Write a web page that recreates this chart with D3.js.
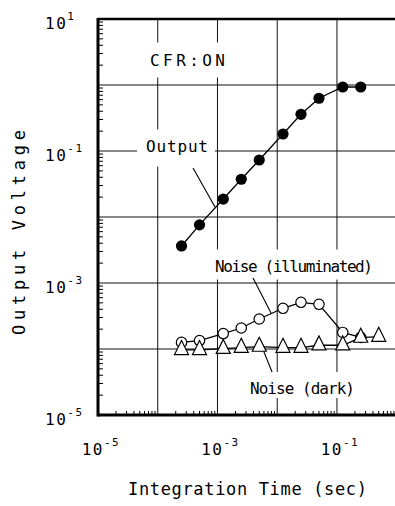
<!DOCTYPE html>
<html lang="en">
<head>
    <meta charset="UTF-8">
    <title>Output Voltage vs Integration Time</title>
    <script src="https://d3js.org/d3.v7.min.js"></script>
    <style>
        body { margin: 0; background: #fff; }
        text { font-family: "DejaVu Sans Mono", "Liberation Mono", monospace; fill: #000; }
    </style>
</head>
<body>
<div id="chart"></div>
<script>
// integration times (sec)
const times = [2.5e-4, 5e-4, 1.25e-3, 2.5e-3, 5e-3, 1.25e-2, 2.5e-2, 5e-2, 0.125, 0.25, 0.5];
const outputV = [3.64e-3, 7.6e-3, 1.87e-2, 3.73e-2, 7.3e-2, 0.181, 0.36, 0.63, 0.933, 0.933];
const noiseIllum = [1.26e-4, 1.34e-4, 1.71e-4, 2.08e-4, 2.85e-4, 4.14e-4, 5.1e-4, 4.76e-4, 1.78e-4, 1.5e-4];
const noiseDark = [9.7e-5, 9.7e-5, 1.01e-4, 1.05e-4, 1.09e-4, 1.05e-4, 1.05e-4, 1.14e-4, 1.14e-4, 1.49e-4, 1.54e-4];

const xLabelExps = [-5, -3, -1];
const yLabelExps = [1, -1, -3, -5];

const width = 395;
const height = 506;

const svg = d3.select("#chart")
    .append("svg")
    .attr("width", width)
    .attr("height", height);

const x = d3.scaleLog().domain([1e-5, 1]).range([98, 396.7]);
const y = d3.scaleLog().domain([1e-5, 10]).range([415, 19]);

// grid lines at each decade
const xDecades = d3.range(-4, 1).map(e => Math.pow(10, e));
const yDecades = d3.range(-4, 1).map(e => Math.pow(10, e));

svg.append("g").selectAll("line")
    .data(xDecades)
    .join("line")
    .attr("x1", d => x(d)).attr("x2", d => x(d))
    .attr("y1", y(10)).attr("y2", y(1e-5))
    .attr("stroke", "#111").attr("stroke-width", 1);

svg.append("g").selectAll("line")
    .data(yDecades)
    .join("line")
    .attr("x1", x(1e-5)).attr("x2", x(1))
    .attr("y1", d => y(d)).attr("y2", d => y(d))
    .attr("stroke", "#111").attr("stroke-width", 1);

// minor ticks, pointing inward
const xMinor = [], yMinor = [];
for (let e = -5; e < 0; e++) for (let m = 2; m < 10; m++) xMinor.push(m * Math.pow(10, e));
for (let e = -5; e < 1; e++) for (let m = 2; m < 10; m++) yMinor.push(m * Math.pow(10, e));

svg.append("g").selectAll("line")
    .data(xMinor)
    .join("line")
    .attr("x1", d => x(d)).attr("x2", d => x(d))
    .attr("y1", y(1e-5)).attr("y2", y(1e-5) - 4)
    .attr("stroke", "#000").attr("stroke-width", 1);

svg.append("g").selectAll("line")
    .data(yMinor)
    .join("line")
    .attr("x1", x(1e-5)).attr("x2", x(1e-5) + 5)
    .attr("y1", d => y(d)).attr("y2", d => y(d))
    .attr("stroke", "#000").attr("stroke-width", 1);

// frame
svg.append("line")
    .attr("x1", x(1e-5)).attr("x2", x(1))
    .attr("y1", y(10)).attr("y2", y(10))
    .attr("stroke", "#000").attr("stroke-width", 2.5);
svg.append("line")
    .attr("x1", x(1e-5)).attr("x2", x(1))
    .attr("y1", y(1e-5)).attr("y2", y(1e-5))
    .attr("stroke", "#000").attr("stroke-width", 3);
svg.append("line")
    .attr("x1", x(1e-5)).attr("x2", x(1e-5))
    .attr("y1", y(10) - 1).attr("y2", y(1e-5) + 1.5)
    .attr("stroke", "#000").attr("stroke-width", 3);

// tick labels
const xl = svg.append("g").selectAll("text")
    .data(xLabelExps)
    .join("text")
    .attr("x", d => x(Math.pow(10, d)) + 3)
    .attr("y", 455)
    .attr("text-anchor", "middle")
    .style("font-size", "16px")
    .style("letter-spacing", "1.5px")
    .text("10");
xl.append("tspan").attr("dy", -9).style("font-size", "11px").text(d => d);

const yl = svg.append("g").selectAll("text")
    .data(yLabelExps)
    .join("text")
    .attr("x", 45)
    .attr("y", d => y(Math.pow(10, d)) + 10)
    .style("font-size", "16px")
    .style("letter-spacing", "1.5px")
    .text("10");
yl.append("tspan").attr("dy", -9).style("font-size", "11px").text(d => d);

// axis titles
svg.append("text")
    .attr("x", 128).attr("y", 495)
    .attr("textLength", 239).attr("lengthAdjust", "spacing")
    .style("font-size", "17px")
    .text("Integration Time (sec)");

svg.append("text")
    .attr("transform", "translate(25,335) rotate(-90)")
    .attr("textLength", 205).attr("lengthAdjust", "spacing")
    .style("font-size", "17px")
    .text("Output Voltage");

// annotation labels with white boxes over the grid
const notes = [
    { text: "CFR:ON", x: 150, y: 65.5, len: 75, padT: 11, padB: 12 },
    { text: "Output", x: 146, y: 151.5, len: 62, padT: 10, padB: 15 },
    { text: "Noise (illuminated)", x: 215, y: 271.5, len: 158, padT: 10, padB: 8 },
    { text: "Noise (dark)", x: 250, y: 394, len: 105, padT: 10, padB: 4 }
];
const boxLayer = svg.append("g");
const leaderLayer = svg.append("g");
const dataLayer = svg.append("g");
const noteLayer = svg.append("g");

notes.forEach(n => {
    noteLayer.append("text")
        .attr("x", n.x).attr("y", n.y)
        .attr("textLength", n.len).attr("lengthAdjust", "spacing")
        .style("font-size", "16px")
        .text(n.text);
    const capTop = n.y - 12;
    boxLayer.append("rect")
        .attr("x", n.x - 9).attr("y", capTop - n.padT)
        .attr("width", n.len + 16).attr("height", 12 + n.padT + n.padB)
        .attr("fill", "#fff");
});

// leader lines (label -> curve), in data coordinates
const leaders = [
    [[3.9e-4, 0.0552], [9.1e-4, 0.0142]],
    [[3.94e-3, 1.19e-3], [7.87e-3, 3.51e-4]],
    [[5.56e-3, 1.07e-4], [8.19e-3, 4.49e-5]]
];
leaders.forEach(l => {
    leaderLayer.append("line")
        .attr("x1", x(l[0][0])).attr("y1", y(l[0][1]))
        .attr("x2", x(l[1][0])).attr("y2", y(l[1][1]))
        .attr("stroke", "#000").attr("stroke-width", 1.1);
});

const line = d3.line().x(d => x(d[0])).y(d => y(d[1]));
const outPts = outputV.map((v, i) => [times[i], v]);
const illPts = noiseIllum.map((v, i) => [times[i], v]);
const darkPts = noiseDark.map((v, i) => [times[i], v]);

[darkPts, illPts, outPts].forEach(pts => {
    dataLayer.append("path")
        .attr("d", line(pts))
        .attr("fill", "none")
        .attr("stroke", "#000")
        .attr("stroke-width", 1.3);
});

dataLayer.selectAll(".ill")
    .data(illPts)
    .join("circle")
    .attr("class", "ill")
    .attr("cx", d => x(d[0])).attr("cy", d => y(d[1]))
    .attr("r", 5.2)
    .attr("fill", "#fff").attr("stroke", "#000").attr("stroke-width", 1.2);

// tall triangles, centroid on the data point
const tri = "M0,-9.3L7,4.7L-7,4.7Z";
dataLayer.selectAll(".dark")
    .data(darkPts)
    .join("path")
    .attr("class", "dark")
    .attr("d", tri)
    .attr("transform", d => `translate(${x(d[0])},${y(d[1])})`)
    .attr("fill", "#fff").attr("stroke", "#000").attr("stroke-width", 1.2);

dataLayer.selectAll(".out")
    .data(outPts)
    .join("circle")
    .attr("class", "out")
    .attr("cx", d => x(d[0])).attr("cy", d => y(d[1]))
    .attr("r", 5.6)
    .attr("fill", "#000");
</script>
</body>
</html>
